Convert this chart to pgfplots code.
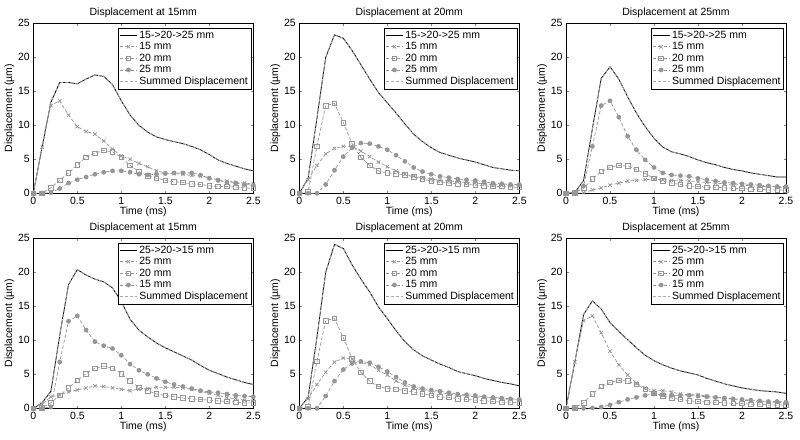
\documentclass[border=0pt]{standalone}
\usepackage{fontspec}
\setmainfont{Liberation Sans}
\usepackage{pgfplots}
\usepackage{pgfplotstable}
\pgfplotsset{compat=1.18}
\definecolor{lg}{RGB}{150,150,150}
\definecolor{sg}{RGB}{170,170,170}
\newcommand{\fs}{\fontsize{10.5}{12}\selectfont}
\pgfplotsset{
  md/.style={
    scale only axis, width=220pt, height=170pt,
    xmin=0, xmax=2.5, ymin=0, ymax=25,
    xtick={0,0.5,1,1.5,2,2.5}, ytick={0,5,10,15,20,25},
    tick align=inside, major tick length=2.5pt, tick pos=both,
    /pgf/number format/assume math mode=true,
    tick label style={font=\fs},
    label style={font=\fs},
    title style={font=\fs, yshift=-4pt},
    xlabel={Time (ms)}, ylabel={Displacement (µm)},
    xlabel style={yshift=4pt}, ylabel style={yshift=-3pt},
    legend style={at={(0.99,0.975)}, anchor=north east, draw=black,
      font=\fs, inner sep=1pt, row sep=-1.2pt},
    legend cell align=left,
    axis line style={line width=0.5pt},
  },
  tot/.style={black, line width=0.8pt, no marks},
  sumd/.style={sg, line width=0.7pt, dash pattern=on 3pt off 2pt, no marks},
  cx/.style={lg, line width=0.7pt, dash pattern=on 3.5pt off 2pt, mark=x, mark size=2.4pt, mark options={solid}},
  cs/.style={lg, line width=0.7pt, dash pattern=on 3.5pt off 2pt, mark=square, mark size=2.3pt, mark options={solid}},
  cd/.style={lg, line width=0.7pt, dash pattern=on 3.5pt off 2pt, mark=*, mark size=2pt, mark options={solid, fill=lg}},
}
\pgfplotstableread{
t tot a b c
0.0 0 0 0 0
0.1 6.8 6.8 0 0
0.2 13.4 12.9 0.8 0.1
0.3 16.3 13.6 1.9 0.7
0.4 16.3 11.5 3.0 1.5
0.5 16.1 9.8 4.2 2.0
0.6 16.8 9.1 5.3 2.4
0.7 17.4 8.7 5.9 2.8
0.8 17.2 7.7 6.3 3.1
0.9 16.0 6.5 6.1 3.3
1.0 13.6 5.5 5.3 3.3
1.1 11.5 5.0 4.1 3.1
1.2 10.0 4.4 3.2 2.8
1.3 9.0 3.9 2.6 2.7
1.4 8.3 3.3 2.2 2.8
1.5 7.9 3.0 1.9 2.9
1.6 7.6 2.9 1.7 3.0
1.7 7.3 2.8 1.6 3.0
1.8 6.9 2.6 1.4 3.0
1.9 6.4 2.5 1.3 2.7
2.0 5.7 2.3 1.1 2.2
2.1 4.9 2.0 1.0 1.9
2.2 4.4 1.8 1.0 1.6
2.3 4.0 1.6 0.9 1.5
2.4 3.6 1.5 0.8 1.3
2.5 3.3 1.4 0.7 1.2
}\tA
\pgfplotstableread{
t tot a b c
0.0 0 0 0 0
0.1 2.2 2.0 0.2 0
0.2 11.0 4.1 6.9 0
0.3 20.0 5.8 12.9 1.3
0.4 23.3 6.6 13.2 3.4
0.5 22.8 6.9 10.4 5.4
0.6 21.0 6.9 7.3 6.7
0.7 18.9 6.2 5.3 7.4
0.8 16.8 5.4 4.1 7.3
0.9 14.8 4.6 3.3 6.9
1.0 13.3 3.9 3.0 6.4
1.1 11.8 3.3 2.9 5.6
1.2 10.2 2.8 2.7 4.7
1.3 8.7 2.5 2.4 3.8
1.4 7.6 2.3 2.1 3.2
1.5 6.7 2.1 1.8 2.8
1.6 6.0 1.9 1.6 2.5
1.7 5.6 1.8 1.5 2.3
1.8 5.2 1.7 1.4 2.1
1.9 4.9 1.6 1.3 2.0
2.0 4.6 1.5 1.2 1.9
2.1 4.2 1.4 1.1 1.7
2.2 3.8 1.3 1.0 1.5
2.3 3.6 1.2 1.0 1.4
2.4 3.4 1.2 0.9 1.3
2.5 3.3 1.1 0.9 1.3
}\tB
\pgfplotstableread{
t tot a b c
0.0 0 0 0 0
0.1 0.1 0 0.1 0
0.2 1.9 0.1 0.7 1.1
0.3 9.5 0.5 2.1 6.9
0.4 16.9 0.8 3.2 12.9
0.5 18.6 1.2 3.8 13.6
0.6 16.8 1.5 4.1 11.2
0.7 14.2 1.8 4.0 8.4
0.8 11.8 1.9 3.5 6.4
0.9 9.8 2.0 2.9 4.9
1.0 8.1 2.1 2.2 3.8
1.1 6.8 2.0 1.8 3.0
1.2 6.1 1.9 1.5 2.7
1.3 5.8 1.9 1.3 2.6
1.4 5.4 1.8 1.1 2.5
1.5 4.9 1.7 1.0 2.2
1.6 4.5 1.6 0.9 2.0
1.7 4.2 1.5 0.9 1.8
1.8 3.8 1.4 0.8 1.6
1.9 3.5 1.3 0.7 1.5
2.0 3.3 1.2 0.7 1.4
2.1 3.0 1.1 0.6 1.3
2.2 2.8 1.0 0.6 1.2
2.3 2.6 1.0 0.5 1.1
2.4 2.4 0.9 0.5 1.0
2.5 2.4 0.9 0.5 1.0
}\tC
\pgfplotstableread{
t tot a b c
0.0 0 0 0 0
0.1 0.8 0.6 0.1 0
0.2 2.5 1.7 0.8 0.2
0.3 10.7 2.0 1.9 6.8
0.4 18.2 2.4 3.0 12.8
0.5 20.4 2.7 4.1 13.6
0.6 19.6 3.0 5.1 11.5
0.7 19.0 3.3 5.9 9.8
0.8 18.6 3.2 6.2 9.2
0.9 17.7 3.0 5.9 8.8
1.0 15.7 2.8 5.1 7.8
1.1 13.1 2.6 4.0 6.5
1.2 11.5 2.8 3.1 5.6
1.3 10.5 2.9 2.6 5.0
1.4 9.6 3.1 2.1 4.4
1.5 8.9 3.1 1.9 3.9
1.6 8.3 3.1 1.7 3.5
1.7 7.7 3.0 1.5 3.2
1.8 7.1 2.8 1.4 2.9
1.9 6.3 2.5 1.3 2.6
2.0 5.6 2.2 1.2 2.4
2.1 5.1 1.9 1.1 2.3
2.2 4.6 1.6 1.0 2.1
2.3 4.2 1.4 0.9 1.9
2.4 3.8 1.2 0.8 1.8
2.5 3.5 1.1 0.8 1.7
}\tD
\pgfplotstableread{
t tot a b c
0.0 0 0 0 0
0.1 1.6 1.4 0.2 0
0.2 10.4 3.5 6.9 0
0.3 20.0 5.3 12.9 1.8
0.4 24.1 6.8 13.2 4.0
0.5 23.5 7.4 10.4 5.7
0.6 21.1 7.2 7.3 6.6
0.7 19.0 6.8 5.3 6.9
0.8 17.1 6.4 4.0 6.7
0.9 14.9 5.6 3.2 6.1
1.0 13.2 4.9 2.9 5.4
1.1 11.4 4.0 2.8 4.6
1.2 9.8 3.4 2.6 3.8
1.3 8.6 3.0 2.4 3.2
1.4 7.7 2.7 2.1 2.9
1.5 7.1 2.5 1.9 2.7
1.6 6.5 2.3 1.7 2.5
1.7 6.0 2.1 1.6 2.3
1.8 5.4 1.9 1.4 2.1
1.9 5.1 1.8 1.3 2.0
2.0 4.8 1.7 1.2 1.9
2.1 4.4 1.6 1.1 1.7
2.2 4.1 1.5 1.0 1.6
2.3 3.8 1.4 0.9 1.5
2.4 3.6 1.3 0.9 1.4
2.5 3.3 1.2 0.8 1.3
}\tE
\pgfplotstableread{
t tot a b c
0.0 0 0 0 0
0.1 6.8 6.8 0.1 0
0.2 13.8 12.9 0.8 0
0.3 15.8 13.6 2.1 0.05
0.4 14.6 11.1 3.2 0.2
0.5 12.6 8.4 3.8 0.5
0.6 11.3 6.4 4.1 0.9
0.7 10.1 4.9 4.0 1.3
0.8 8.9 3.7 3.5 1.6
0.9 7.8 3.0 2.8 1.9
1.0 7.0 2.6 2.2 2.1
1.1 6.4 2.6 1.8 2.0
1.2 5.9 2.4 1.5 1.9
1.3 5.5 2.1 1.3 1.9
1.4 5.2 2.0 1.1 1.9
1.5 4.9 2.0 1.0 1.8
1.6 4.4 1.8 0.9 1.7
1.7 4.0 1.6 0.9 1.6
1.8 3.6 1.5 0.8 1.5
1.9 3.3 1.3 0.7 1.4
2.0 3.0 1.2 0.7 1.3
2.1 2.8 1.1 0.6 1.2
2.2 2.6 1.0 0.6 1.1
2.3 2.5 0.9 0.5 1.0
2.4 2.4 0.9 0.5 1.0
2.5 2.2 0.8 0.5 0.9
}\tF
% #1 x, #2 y, #3 table, #4 title, #5 total name, #6 first comp, #7 third comp
\newcommand{\panel}[7]{%
\begin{axis}[md, at={(#1pt,-#2pt)}, anchor=north west, title={#4}]
\addplot[tot] table[x=t,y=tot]{#3};
\addlegendentry{#5}
\addplot[cx] table[x=t,y=a]{#3};
\addlegendentry{#6}
\addplot[cs] table[x=t,y=b]{#3};
\addlegendentry{20 mm}
\addplot[cd] table[x=t,y=c]{#3};
\addlegendentry{#7}
\addplot[sumd] table[x=t,y=tot]{#3};
\addlegendentry{Summed Displacement}
\end{axis}}
\begin{document}
\begin{tikzpicture}
\path[use as bounding box] (0pt,0pt) rectangle (800pt,-439pt);
\panel{33.3}{23.3}{\tA}{Displacement at 15mm}{15->20->25 mm}{15 mm}{25 mm}
\panel{299.3}{23.3}{\tB}{Displacement at 20mm}{15->20->25 mm}{15 mm}{25 mm}
\panel{566}{23.3}{\tC}{Displacement at 25mm}{15->20->25 mm}{15 mm}{25 mm}
\panel{33.3}{238.3}{\tD}{Displacement at 15mm}{25->20->15 mm}{25 mm}{15 mm}
\panel{299.3}{238.3}{\tE}{Displacement at 20mm}{25->20->15 mm}{25 mm}{15 mm}
\panel{566}{238.3}{\tF}{Displacement at 25mm}{25->20->15 mm}{25 mm}{15 mm}
\end{tikzpicture}
\end{document}
